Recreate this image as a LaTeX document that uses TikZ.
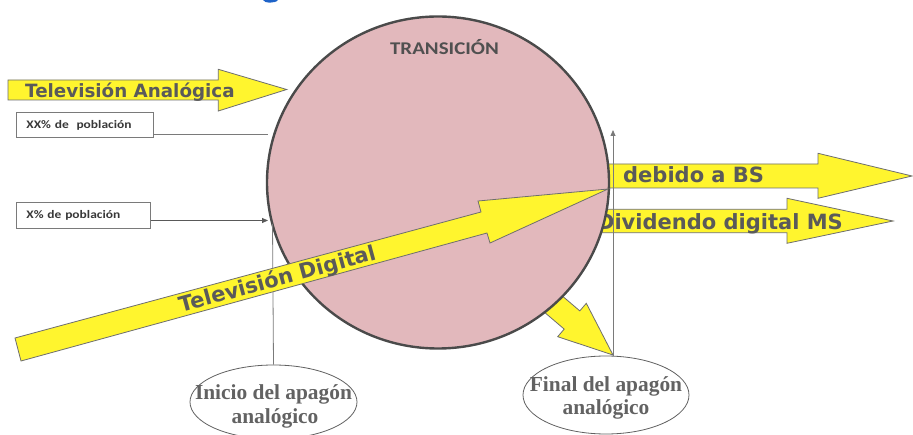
\documentclass[tikz,border=0pt]{standalone}
\usepackage{fontspec}
\usetikzlibrary{shapes.geometric,arrows.meta}
\newfontfamily\verdfont{DejaVu Sans}
\newfontfamily\calibfont[FakeStretch=1.17]{Carlito}
\newfontfamily\timesfont{Liberation Serif}
\definecolor{yel}{HTML}{FFF52E}
\definecolor{yeledge}{HTML}{6E6E6E}
\definecolor{pinkfill}{HTML}{E2B8BC}
\definecolor{circedge}{HTML}{4A4A4A}
\definecolor{txtgray}{HTML}{5A5A5A}
\definecolor{titlegray}{HTML}{505050}
\definecolor{linegray}{HTML}{7A7A7A}
\definecolor{ovaltxt}{HTML}{626262}
\definecolor{titleblue}{HTML}{1E63C8}
\begin{document}
\begin{tikzpicture}[x=1pt,y=-1pt,
  yarrow/.style={fill=yel, draw=yeledge, line width=0.8pt, line join=miter},
  bigtxt/.style={font=\verdfont\bfseries\fontsize{#1}{#1}\selectfont, text=txtgray, inner sep=0},
  popbox/.style={draw=linegray, fill=white, line width=0.8pt, anchor=north west, align=left,
    inner xsep=10pt, inner ysep=0pt, font=\calibfont\bfseries\fontsize{11.5}{13}\selectfont, text=black!78},
  oval/.style={ellipse, draw=black!62, fill=white, line width=0.8pt, inner sep=0pt},
  ovaltext/.style={font=\timesfont\bfseries\fontsize{21.4}{23}\selectfont, text=ovaltxt, inner sep=0pt, anchor=base},
  thin line/.style={draw=linegray, line width=0.8pt},
  tipped/.style={thin line, -{Triangle[length=6pt,width=5pt]}}
]
\path[use as bounding box, clip] (0,0) rectangle (913,435);
\fill[white] (0,0) rectangle (913,435);

% blue fragment of a clipped title letter
\fill[titleblue] (263,0) .. controls (264,3.5) and (276,3.5) .. (278,0) -- cycle;

% arrows leaving to the right (partly under the circle)
\draw[yarrow] (560,164) -- (818,164) -- (818,153.3) -- (912,176) -- (818,198.3) -- (818,188) -- (560,188) -- cycle;
\node[bigtxt=21, anchor=base west] (bs) at (623,183) {debido a BS};
\draw[yarrow] (560,209.3) -- (787,209.3) -- (787,198.3) -- (893,221) -- (787,243.3) -- (787,232.7) -- (560,232.7) -- cycle;
\node[bigtxt=21, anchor=base east] (ms) at (843,229.3) {Dividendo digital MS};
% small arrow towards the end of the switch-off
\draw[yarrow] (518.8,258.9) -- (579.8,310.9) -- (586.3,303.3) -- (613,355) -- (557.7,336.7) -- (564.2,329.1) -- (503.2,277.1) -- cycle;

% transition circle
\node[ellipse, draw=circedge, fill=pinkfill, line width=2.4pt, minimum width=342pt, minimum height=332pt, inner sep=0pt] (trans) at (438,182.5) {};
\node[font=\calibfont\bfseries\fontsize{17.9}{20}\selectfont, text=titlegray, anchor=base, inner sep=0pt] (transtxt) at (444.5,55) {TRANSICIÓN};

% analog TV arrow
\draw[yarrow] (8,80) -- (218.3,80) -- (218.3,69.3) -- (286.7,89.5) -- (218.3,111) -- (218.3,100) -- (8,100) -- cycle;
\node[bigtxt=18.3, anchor=base west] (tva) at (25,97.5) {Televisión Analógica};

% population boxes
\node[popbox, text width=117pt, minimum height=25pt] (xx) at (16,112) {XX\% de~~población};
\node[popbox, text width=114pt, minimum height=26pt] (x) at (16,202) {X\% de población};
\coordinate (xxend) at (268,134.7);
\coordinate (xend) at (268,220.5);
\draw[thin line] (xx.east |- xxend) -- (xxend);
\draw[tipped, draw=black!65] (x.east |- xend) -- (xend);

% milestones
\node[oval, minimum width=167pt, minimum height=74pt] (inicio) at (273.5,402) {};
\node[ovaltext] (inicio1) at (273.5,400) {Inicio del apagón};
\node[ovaltext] (inicio2) at (275,423.5) {analógico};
\node[oval, minimum width=166pt, minimum height=78pt] (final) at (606,395) {};
\node[ovaltext] (final1) at (606,391.7) {Final del apagón};
\node[ovaltext] (final2) at (606,415) {analógico};

\coordinate (itop) at (272.5,224);
\draw[thin line] (inicio.north) -- (itop);

% digital TV arrow (on top of the circle)
\draw[yarrow] (15,338) -- (481,212) -- (478,201) -- (608,189) -- (490,243) -- (487,233) -- (21,361) -- cycle;
\node[bigtxt=21, rotate=15.2] (tvd) at (278,280) {Televisión Digital};

\coordinate (ftop) at (613,130);
\draw[tipped] (ftop |- final.north) -- (ftop);
\end{tikzpicture}
\end{document}
